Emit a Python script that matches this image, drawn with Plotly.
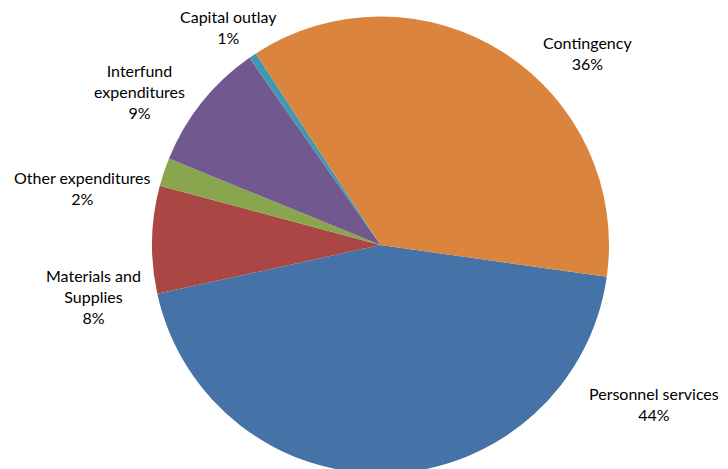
import plotly.graph_objects as go

# Budget share by expenditure category (percent of total)
categories = [
    "Personnel services",
    "Materials and Supplies",
    "Other expenditures",
    "Interfund expenditures",
    "Capital outlay",
    "Contingency",
]
shares = [44.35, 7.6, 2.0, 9.1, 0.55, 36.4]

# Label text as it is wrapped on the chart
label_lines = [
    "Personnel services",
    "Materials and<br>Supplies",
    "Other expenditures",
    "Interfund<br>expenditures",
    "Capital outlay",
    "Contingency",
]

slice_colors = ["#4572A7", "#AA4643", "#89A54E", "#71588F", "#4198AF", "#DB843D"]

W, H = 728, 480
cx, cy, r = 380.5, 245.0, 228.5

# label block centres in pixels (x, y from top)
label_pos = [(654, 404), (93, 296), (82, 188), (139, 91), (228, 27), (587, 53)]

fig = go.Figure(
    go.Pie(
        labels=categories,
        values=shares,
        sort=False,
        direction="clockwise",
        rotation=98,
        marker=dict(colors=slice_colors, line=dict(width=0)),
        textinfo="none",
        hoverinfo="skip",
        showlegend=False,
        domain=dict(
            x=[(cx - r) / W, (cx + r) / W],
            y=[1 - (cy + r) / H, 1 - (cy - r) / H],
        ),
    )
)

total = sum(shares)
for text, v, (px, py) in zip(label_lines, shares, label_pos):
    pct = round(v / total * 100)
    fig.add_annotation(
        x=px / W,
        y=1 - py / H,
        xref="paper",
        yref="paper",
        xanchor="center",
        yanchor="middle",
        showarrow=False,
        align="center",
        text=f"{text}<br>{pct}%",
        font=dict(family="Lato", size=16, color="#000000"),
    )

fig.update_layout(
    width=W,
    height=H,
    margin=dict(l=0, r=0, t=0, b=0),
    paper_bgcolor="white",
    plot_bgcolor="white",
)

fig.write_html(
    "out.html",
    post_script="document.body.style.overflow='hidden';document.documentElement.style.overflow='hidden';",
)
